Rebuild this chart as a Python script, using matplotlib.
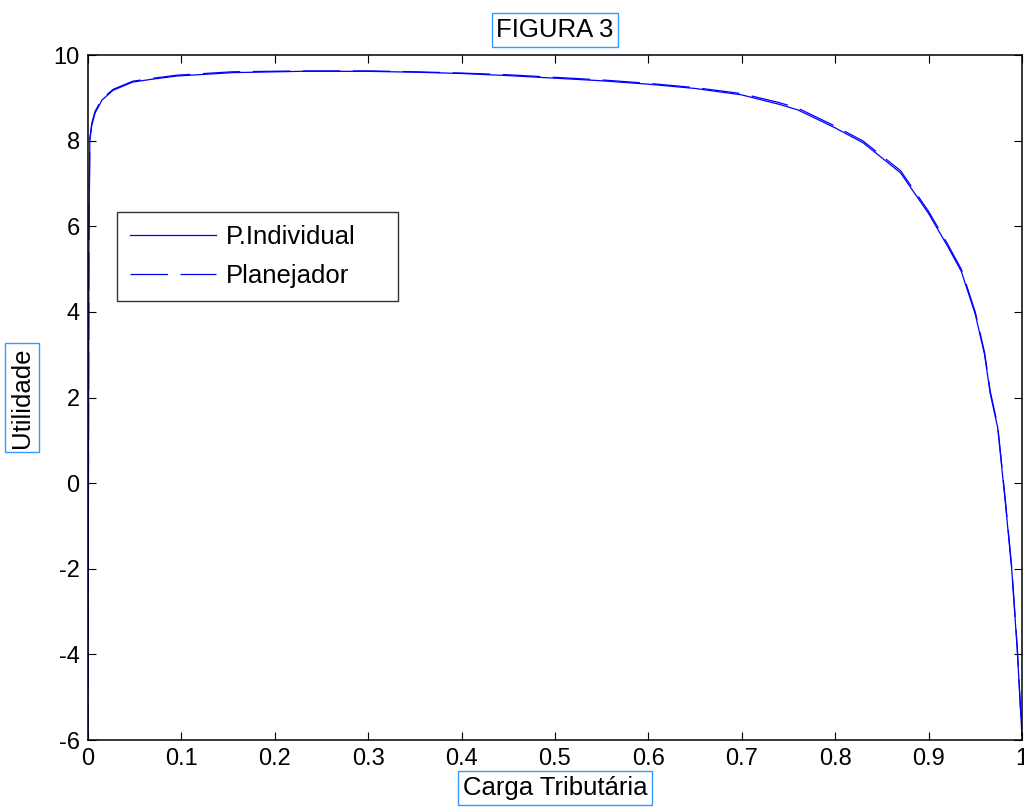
import matplotlib
matplotlib.use("Agg")
import matplotlib.pyplot as plt

plt.rcParams["font.family"] = ["Liberation Sans", "DejaVu Sans"]
plt.rcParams["axes.unicode_minus"] = False

# tax burden grid and utility of each regime
carga = [0.0, 0.0005, 0.001, 0.002, 0.004, 0.0075, 0.015, 0.027, 0.048, 0.07,
         0.095, 0.155, 0.227, 0.3, 0.35, 0.4, 0.45, 0.5, 0.55, 0.6, 0.65, 0.7,
         0.74, 0.76, 0.8, 0.83, 0.87, 0.9, 0.92, 0.935, 0.95, 0.96, 0.966,
         0.974, 0.982, 0.989, 0.995, 1.0]
u_individual = [-6.0, 0.0, 5.5, 8.0, 8.35, 8.64, 8.95, 9.18, 9.37, 9.44,
                9.51, 9.59, 9.62, 9.62, 9.6, 9.57, 9.52, 9.46, 9.4, 9.32, 9.22, 9.07,
                8.85, 8.72, 8.3, 7.95, 7.25, 6.3, 5.55, 4.95, 3.95, 3.0, 2.1,
                1.3, -0.4, -2.0, -3.9, -5.9]
u_planejador = [-6.0, 0.1, 5.6, 8.05, 8.4, 8.68, 8.98, 9.2, 9.39, 9.46,
                9.53, 9.61, 9.63, 9.63, 9.61, 9.58, 9.54, 9.48, 9.42, 9.34, 9.24, 9.1,
                8.89, 8.76, 8.34, 7.99, 7.3, 6.35, 5.6, 5.0, 4.0, 3.05, 2.15,
                1.35, -0.35, -1.95, -3.85, -5.9]

xticks = [0, 0.1, 0.2, 0.3, 0.4, 0.5, 0.6, 0.7, 0.8, 0.9, 1]
xticklabels = ["0", "0.1", "0.2", "0.3", "0.4", "0.5", "0.6", "0.7", "0.8", "0.9", "1"]
yticks = [-6, -4, -2, 0, 2, 4, 6, 8, 10]

fig = plt.figure(figsize=(10.24, 8.10), dpi=100)
ax = fig.add_axes([0.0859, 0.0864, 0.9121, 0.8456])

ax.plot(carga, u_individual, color="#0000ff", lw=0.9, label="P.Individual")
ax.plot(carga, u_planejador, color="#0000ff", lw=0.9, dashes=(30, 10),
        label="Planejador")

ax.set_xlim(0, 1)
ax.set_ylim(-6, 10)
ax.set_xticks(xticks)
ax.set_xticklabels(xticklabels)
ax.set_yticks(yticks)
ax.tick_params(direction="in", length=6, width=0.8, top=True, right=True,
               labelsize=17, pad=6)
for sp in ax.spines.values():
    sp.set_linewidth(1.1)

box = dict(boxstyle="square,pad=0.18", fc="white", ec="#3399ff", lw=1)
ax.set_title("FIGURA 3", fontsize=18.5, bbox=box, pad=13)
ax.set_xlabel("Carga Tributária", fontsize=18.5, bbox=box, labelpad=4)
ax.set_ylabel("Utilidade", fontsize=18.5, bbox=box, labelpad=14)

# legend box stretched to a fixed width, like the default MATLAB legend
leg = ax.legend(loc="upper left", bbox_to_anchor=(0.031, 0.642, 0.301, 0.129),
                mode="expand", fontsize=18.5,
                frameon=True, fancybox=False, edgecolor="black",
                handlelength=3.35, handletextpad=0.4, borderpad=0.5,
                labelspacing=0.6, borderaxespad=0)
leg.get_frame().set_linewidth(1.0)

fig.savefig("out.png", dpi=100)
